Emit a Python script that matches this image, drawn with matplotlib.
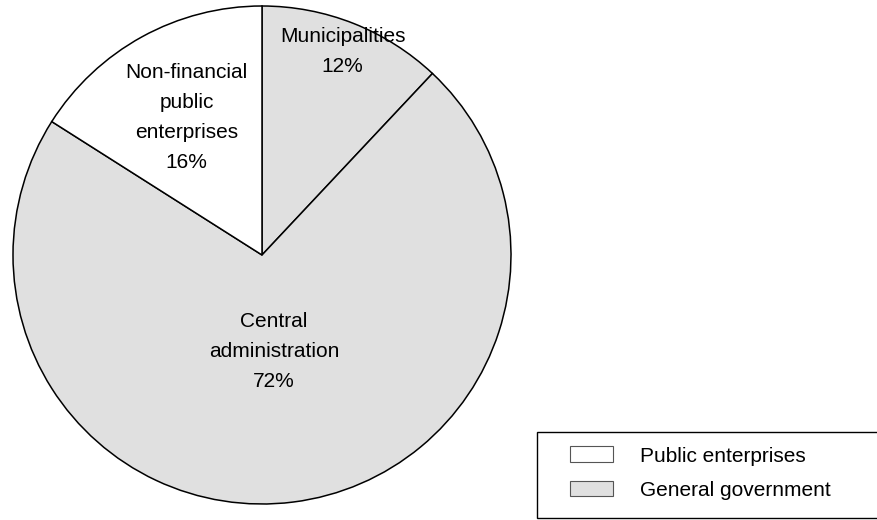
import numpy as np
import matplotlib.pyplot as plt
from matplotlib.patches import Patch, Rectangle

plt.rcParams['font.family'] = ['Liberation Sans', 'DejaVu Sans']

# data
labels = ['Municipalities', 'Central\nadministration', 'Non-financial\npublic\nenterprises']
shares = [12, 72, 16]
groups = ['General government', 'General government', 'Public enterprises']
group_colors = {'Public enterprises': '#ffffff', 'General government': '#e0e0e0'}
legend_order = ['Public enterprises', 'General government']

# radial position of each label (fraction of radius)
label_dist = [0.88, 0.39, 0.63]

fig = plt.figure(figsize=(8.77, 5.2), dpi=100)
ax = fig.add_axes([13 / 877, 16 / 520, 498 / 877, 498 / 520])

wedges, _ = ax.pie(shares, startangle=90, counterclock=False,
                   colors=[group_colors[g] for g in groups],
                   wedgeprops=dict(edgecolor='black', linewidth=1.1))

for w, lab, val, d in zip(wedges, labels, shares, label_dist):
    mid = np.deg2rad((w.theta1 + w.theta2) / 2)
    ax.text(d * np.cos(mid), d * np.sin(mid), f'{lab}\n{val}%',
            ha='center', va='center', fontsize=15, linespacing=1.75)

ax.set_xlim(-1, 1)
ax.set_ylim(-1, 1)
ax.set_aspect('equal')
ax.axis('off')

# legend frame drawn separately so the inner padding can differ per side
fig.patches.append(Rectangle((537 / 877, 2 / 520), 400 / 877, 86 / 520,
                             transform=fig.transFigure, facecolor='white',
                             edgecolor='black', linewidth=1.0, zorder=0))

handles = [Patch(facecolor=group_colors[g], edgecolor='#555555', linewidth=0.8) for g in legend_order]
leg = fig.legend(handles, legend_order, loc='center left',
                 bbox_to_anchor=(570 / 877, (520 - 473) / 520),
                 fontsize=15, frameon=False,
                 handlelength=2.07, handleheight=0.77, handletextpad=1.3,
                 labelspacing=0.72, borderpad=0, borderaxespad=0)

fig.savefig('out.png', dpi=100)
